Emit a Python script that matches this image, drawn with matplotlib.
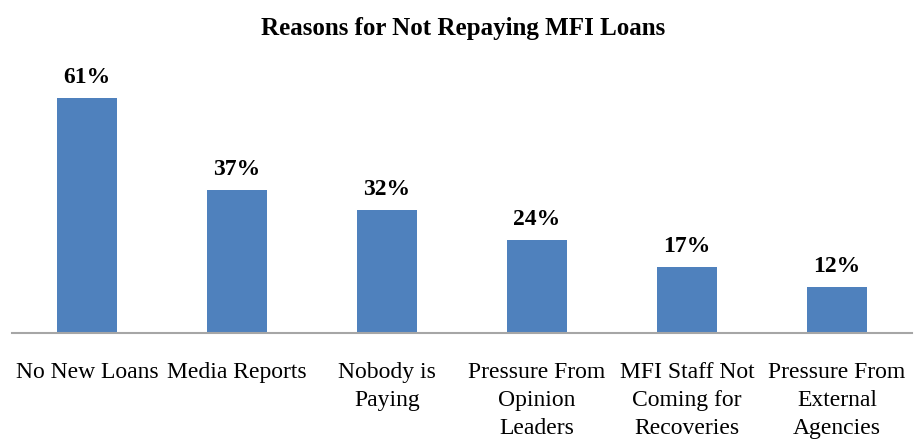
import matplotlib.pyplot as plt

reasons = ["No New Loans", "Media Reports", "Nobody is\nPaying",
           "Pressure From\nOpinion\nLeaders", "MFI Staff Not\nComing for\nRecoveries",
           "Pressure From\nExternal\nAgencies"]
shares = [61, 37, 32, 24, 17, 12]

plt.rcParams['font.family'] = ['Liberation Serif', 'DejaVu Serif']

fig = plt.figure(figsize=(9.23, 4.48), dpi=100)
ax = fig.add_axes([12 / 923, 115 / 448, 900 / 923, 270 / 448])

x = range(len(reasons))
bars = ax.bar(x, shares, width=0.4, color='#4F81BD')
for b, v in zip(bars, shares):
    ax.text(b.get_x() + b.get_width() / 2, v + 2.6, f"{v}%", ha='center', va='bottom',
            fontsize=17, fontweight='bold')

ax.set_xlim(-0.5, len(reasons) - 0.5)
ax.set_ylim(0, 70)
ax.set_xticks(list(x))
ax.set_xticklabels(reasons, fontsize=17, linespacing=1.42, va='top')
ax.tick_params(axis='x', length=0, pad=21)
ax.set_yticks([])
for s in ['top', 'right', 'left']:
    ax.spines[s].set_visible(False)
ax.spines['bottom'].set_color('#A6A6A6')
ax.spines['bottom'].set_linewidth(1.5)

fig.text(463 / 923, 1 - 29 / 448, "Reasons for Not Repaying MFI Loans", ha='center', va='center',
         fontsize=18, fontweight='bold')

fig.savefig('out.png', dpi=100)
